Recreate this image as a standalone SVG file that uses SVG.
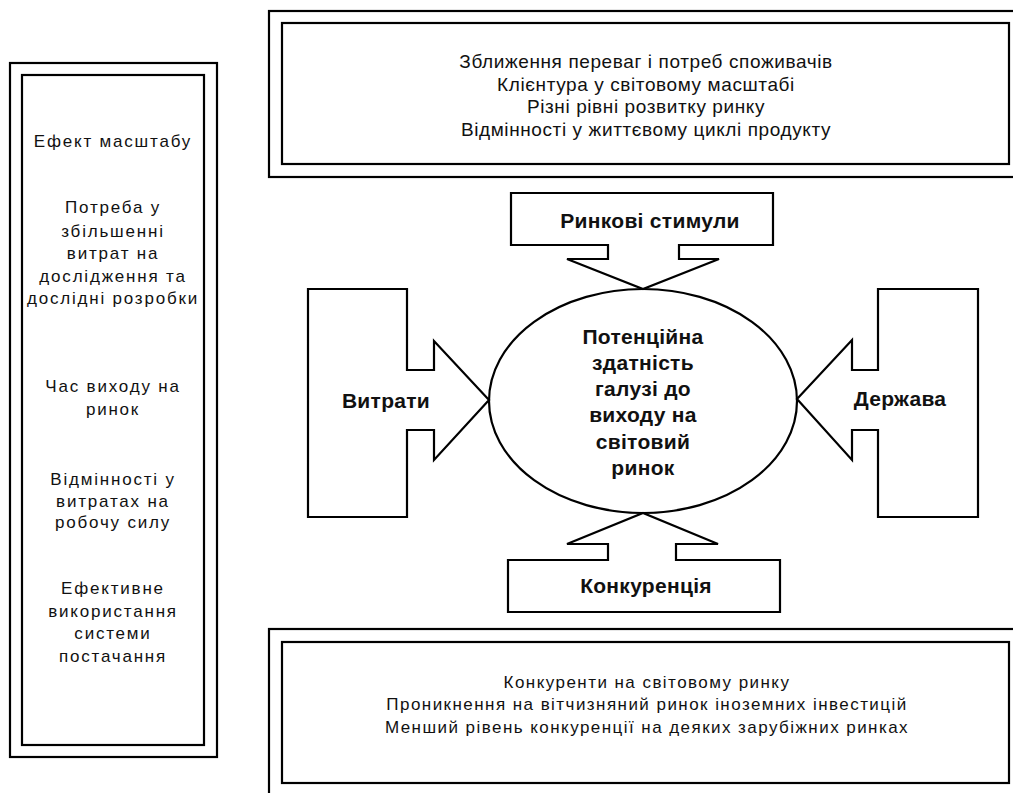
<svg xmlns="http://www.w3.org/2000/svg" width="1013" height="793" viewBox="0 0 1013 793">
<style>
.box{fill:none;stroke:#000;stroke-width:2.2}
.shape{fill:#fff;stroke:#000;stroke-width:2.2}
.t{font-family:"Liberation Sans",Arial,sans-serif;font-size:17px;fill:#111;text-anchor:middle}
.ls{letter-spacing:1.8px}
.lb{letter-spacing:1.45px}
.tp{font-size:19px;letter-spacing:0.6px}
.b{font-family:"Liberation Sans",Arial,sans-serif;font-size:21px;font-weight:bold;fill:#111;text-anchor:middle;letter-spacing:0.3px}
</style>
<rect width="1013" height="793" fill="#fff"/>
<g id="left-box">
<rect class="box" x="10" y="63" width="207" height="694"/>
<rect class="box" x="22" y="75" width="182" height="670"/>
<text class="t ls" x="113" y="147">Ефект масштабу</text>
<text class="t ls" x="113" y="213">Потреба у</text>
<text class="t ls" x="113" y="237">збільшенні</text>
<text class="t ls" x="113" y="259">витрат на</text>
<text class="t ls" x="113" y="282">дослідження та</text>
<text class="t ls" x="113" y="304">дослідні розробки</text>
<text class="t ls" x="113" y="392">Час виходу на</text>
<text class="t ls" x="113" y="415">ринок</text>
<text class="t ls" x="113" y="485">Відмінності у</text>
<text class="t ls" x="113" y="507">витратах на</text>
<text class="t ls" x="113" y="528">робочу силу</text>
<text class="t ls" x="113" y="594">Ефективне</text>
<text class="t ls" x="113" y="617">використання</text>
<text class="t ls" x="113" y="639">системи</text>
<text class="t ls" x="113" y="662">постачання</text>
</g>
<g id="top-box">
<rect class="box" x="269" y="11" width="760" height="166"/>
<rect class="box" x="282" y="23" width="727" height="141"/>
<text class="t tp" x="646" y="68">Зближення переваг і потреб споживачів</text>
<text class="t tp" x="646" y="91">Клієнтура у світовому масштабі</text>
<text class="t tp" x="646" y="113">Різні рівні розвитку ринку</text>
<text class="t tp" x="646" y="136">Відмінності у життєвому циклі продукту</text>
</g>
<g id="bottom-box">
<rect class="box" x="269" y="629" width="760" height="180"/>
<rect class="box" x="282" y="642" width="727" height="141"/>
<text class="t lb" x="647" y="688">Конкуренти на світовому ринку</text>
<text class="t lb" x="647" y="710">Проникнення на вітчизняний ринок іноземних інвестицій</text>
<text class="t lb" x="647" y="733">Менший рівень конкуренції на деяких зарубіжних ринках</text>
</g>
<g id="connectors">
<path id="arrow-costs" class="shape" d="M308,289 H407 V370 H434 V341 L489,400 L434,460 V430 H407 V517 H308 Z"/>
<path id="arrow-state" class="shape" d="M978,289 H878 V370 H852 V340 L797,399 L852,460 V430 H878 V517 H978 Z"/>
<path id="arrow-market" class="shape" d="M511,193 H773 V245 H679 V259 H719 L643,289 L567,259 H608 V245 H511 Z"/>
<path id="arrow-competition" class="shape" d="M508,612 H780 V560 H676 V544 H718 L643,513 L567,544 H608 V560 H508 Z"/>
</g>
<g id="center">
<ellipse class="box" cx="643" cy="401" rx="154" ry="112"/>
<text class="b" x="643" y="344">Потенційна</text>
<text class="b" x="643" y="370">здатність</text>
<text class="b" x="643" y="396">галузі до</text>
<text class="b" x="643" y="422">виходу на</text>
<text class="b" x="643" y="449">світовий</text>
<text class="b" x="643" y="475">ринок</text>
</g>
<g id="labels">
<text class="b" x="650" y="228">Ринкові стимули</text>
<text class="b" x="386" y="408">Витрати</text>
<text class="b" x="900" y="406">Держава</text>
<text class="b" x="646" y="593">Конкуренція</text>
</g>
</svg>
